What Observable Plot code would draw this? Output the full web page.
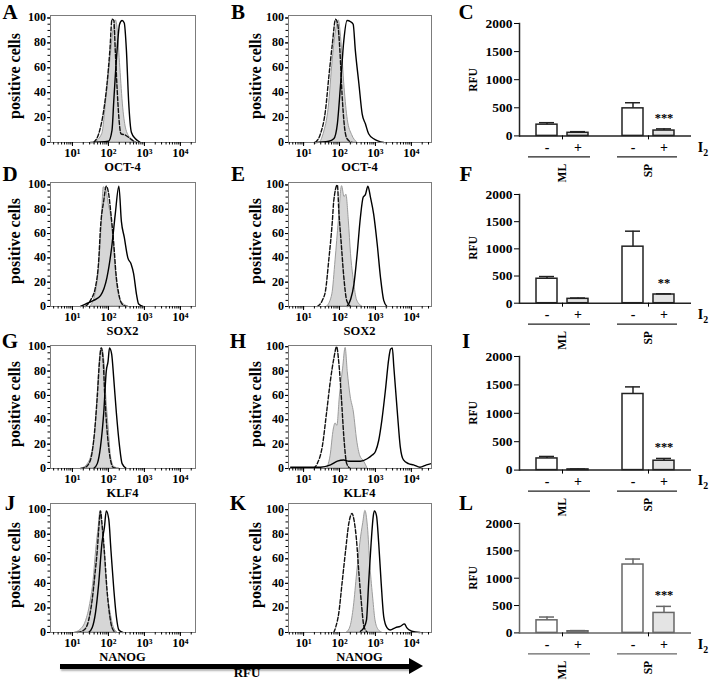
<!DOCTYPE html>
<html><head><meta charset="utf-8">
<script src="https://cdn.jsdelivr.net/npm/d3@7"></script>
<script src="https://cdn.jsdelivr.net/npm/@observablehq/plot@0.6"></script>
<style>
body{margin:0;background:#fff;}
#fig{position:relative;width:712px;height:680px;overflow:hidden;font-family:"Liberation Serif","Times New Roman",serif;font-weight:bold;color:#000;}
#fig svg{position:absolute;overflow:visible;}
.t{position:absolute;white-space:nowrap;line-height:1;}
#shaft{position:absolute;left:60px;top:664px;width:351px;height:4.5px;background:#000;box-shadow:1px 2px 2px #b5b5b5;}
#head{position:absolute;left:409px;top:658px;width:0;height:0;border-top:8px solid transparent;border-bottom:8px solid transparent;border-left:14px solid #000;}
</style></head><body><div id="fig"><div id="shaft"></div><div id="head"></div></div>
<script>
// ---------- labels ----------
const panelLetters = [["A","B","C"],["D","E","F"],["G","H","I"],["J","K","L"]];
const markerLabels = ["OCT-4","SOX2","KLF4","NANOG"];
const decadeTicks = [10, 100, 1000, 10000];
const decadeLabels = ["10¹","10²","10³","10⁴"];
const countTicks = [0, 20, 40, 60, 80, 100];
const rfuTicks = [0, 500, 1000, 1500, 2000];
const groupNames = ["ML", "SP"];
const iodineLevels = ["-", "+"];
const groups = ["ML", "ML", "SP", "SP"];
const iodine = ["-", "+", "-", "+"];

// ---------- histogram data: [log10 RFU, % of max] ----------
const A_dash = [[1.59,0],[1.73,7],[1.87,26],[1.96,47],[2.04,74],[2.10,99],[2.15,98],[2.19,74],[2.24,44],[2.29,20],[2.35,7],[2.47,6],[2.61,3],[2.75,0]];
const A_grey = [[1.63,0],[1.83,7],[1.94,34],[2.06,68],[2.15,92],[2.21,98],[2.26,90],[2.33,60],[2.41,28],[2.50,10],[2.63,3],[2.80,0]];
const A_solid = [[1.50,0],[2.00,1],[2.10,10],[2.15,34],[2.24,74],[2.31,95],[2.38,98],[2.44,96],[2.50,74],[2.56,34],[2.64,8],[2.75,3],[2.89,0]];

const B_dash = [[1.33,0],[1.47,7],[1.61,26],[1.70,52],[1.80,79],[1.89,99],[1.95,95],[2.01,74],[2.07,39],[2.14,12],[2.21,3],[2.35,0]];
const B_grey = [[1.47,0],[1.56,7],[1.70,28],[1.81,66],[1.89,87],[1.98,98],[2.05,82],[2.14,44],[2.23,18],[2.35,6],[2.49,0]];
const B_solid = [[1.30,0],[1.70,1],[1.84,3],[1.94,15],[2.03,47],[2.12,82],[2.21,98],[2.31,97],[2.38,95],[2.44,74],[2.54,47],[2.63,23],[2.72,15],[2.81,7],[2.95,3],[3.23,0]];

const D_dash = [[1.36,0],[1.50,5],[1.64,16],[1.73,38],[1.78,65],[1.87,87],[1.94,99],[2.01,92],[2.06,79],[2.15,51],[2.21,27],[2.29,10],[2.38,2],[2.50,0]];
const D_grey = [[1.50,0],[1.64,10],[1.73,29],[1.81,65],[1.87,98],[1.94,96],[2.01,84],[2.08,73],[2.15,51],[2.22,24],[2.31,7],[2.42,2],[2.56,0]];
const D_solid = [[1.22,0],[1.36,2],[1.59,5],[1.78,9],[1.96,24],[2.10,51],[2.19,76],[2.29,99],[2.36,70],[2.44,57],[2.54,40],[2.63,35],[2.70,27],[2.78,10],[2.84,2],[2.96,0]];

const E_dash = [[1.38,0],[1.52,5],[1.61,13],[1.70,38],[1.80,70],[1.84,87],[1.94,100],[1.98,79],[2.05,51],[2.12,24],[2.20,5],[2.31,0]];
const E_grey = [[1.66,0],[1.80,10],[1.89,38],[1.98,70],[2.07,99],[2.14,90],[2.19,92],[2.26,70],[2.32,43],[2.40,21],[2.49,5],[2.63,0]];
const E_solid = [[2.21,0],[2.31,6],[2.40,18],[2.49,43],[2.58,73],[2.66,90],[2.72,92],[2.79,99],[2.86,90],[2.95,76],[3.05,51],[3.14,24],[3.23,5],[3.32,0]];

const G_dash = [[1.22,0],[1.36,1],[1.50,7],[1.59,23],[1.69,59],[1.75,87],[1.80,99],[1.85,90],[1.90,59],[1.96,32],[2.04,10],[2.13,1],[2.25,0]];
const G_grey = [[1.27,0],[1.41,3],[1.54,12],[1.64,32],[1.71,65],[1.78,95],[1.82,99],[1.89,87],[1.94,59],[2.01,32],[2.07,10],[2.17,1],[2.30,0]];
const G_solid = [[1.59,0],[1.69,4],[1.78,18],[1.87,46],[1.94,80],[1.99,88],[2.03,99],[2.09,94],[2.15,73],[2.22,46],[2.31,18],[2.38,4],[2.50,0]];

const H_dash = [[1.28,0],[1.38,4],[1.52,18],[1.64,46],[1.75,73],[1.84,90],[1.92,100],[1.98,87],[2.05,59],[2.12,26],[2.20,4],[2.30,0]];
const H_grey = [[1.66,0],[1.75,10],[1.84,32],[1.89,37],[1.94,35],[2.01,59],[2.10,82],[2.17,99],[2.23,79],[2.31,59],[2.40,46],[2.49,23],[2.58,10],[2.68,6],[2.78,0]];
const H_solid = [[0.64,1],[1.00,1],[1.47,1],[1.75,3],[1.94,6],[2.12,7],[2.26,6],[2.40,6],[2.58,6],[2.77,8],[2.91,11],[3.00,14],[3.09,23],[3.18,40],[3.28,65],[3.37,90],[3.42,98],[3.47,99],[3.51,84],[3.61,46],[3.69,18],[3.78,7],[3.92,4],[4.06,3],[4.24,1],[4.42,3],[4.55,4]];

const J_dash = [[1.13,0],[1.32,2],[1.45,10],[1.55,27],[1.62,46],[1.69,67],[1.73,84],[1.78,99],[1.82,89],[1.89,65],[1.96,35],[2.04,13],[2.10,4],[2.20,0]];
const J_grey = [[1.08,0],[1.22,2],[1.36,8],[1.48,21],[1.59,43],[1.66,67],[1.73,86],[1.78,99],[1.83,86],[1.90,62],[1.96,37],[2.06,16],[2.15,4],[2.25,0]];
const J_solid = [[1.45,0],[1.55,4],[1.64,16],[1.73,40],[1.82,73],[1.89,86],[1.94,99],[2.01,92],[2.07,67],[2.15,35],[2.22,13],[2.29,2],[2.40,0]];

const K_dash = [[1.84,0],[1.89,4],[1.98,16],[2.07,40],[2.17,67],[2.26,89],[2.35,97],[2.40,92],[2.47,76],[2.54,48],[2.60,27],[2.68,5],[2.78,0]];
const K_grey = [[2.21,0],[2.31,5],[2.40,21],[2.49,48],[2.58,73],[2.66,89],[2.72,99],[2.79,86],[2.86,54],[2.94,27],[3.00,10],[3.09,2],[3.18,0]];
const K_solid = [[2.58,1],[2.68,4],[2.75,10],[2.81,40],[2.88,73],[2.94,95],[2.97,99],[3.03,95],[3.09,73],[3.16,40],[3.23,13],[3.32,4],[3.41,2],[3.56,4],[3.69,5],[3.81,7],[3.87,4],[4.01,1],[4.24,0]];

// ---------- bar chart data (RFU mean, SEM) ----------
const C_mean = [200, 55, 490, 95];   const C_sem = [35, 20, 100, 30];
const F_mean = [450, 80, 1040, 160]; const F_sem = [40, 15, 285, 12];
const I_mean = [205, 12, 1340, 165]; const I_sem = [35, 6, 125, 40];
const L_mean = [230, 30, 1250, 365]; const L_sem = [60, 12, 100, 120];
const C_star = "***", F_star = "**", I_star = "***", L_star = "***";

// ---------- layout ----------
const fig = document.getElementById("fig");
const rowFrames = [[15,142],[182,306],[345,468],[503,632]];
const rowYmax = [102, 102, 101, 105];
const colFrames = [[50,195],[288,431]];
const colDomains = [[10**0.39, 10**4.42],[10**0.58, 10**4.56]];
const barRows = [[23.3,135.7],[194,302.7],[355.7,469.3],[523.3,632.7]];
const baseStyle = {background:"none", overflow:"visible", fontFamily: '"Liberation Serif","Times New Roman",serif', fontWeight:"bold", color:"#000"};

function txt(html, x, y, size, rot, anchor) {
  const d = document.createElement("div");
  d.className = "t";
  d.innerHTML = html;
  d.style.left = x + "px"; d.style.top = y + "px"; d.style.fontSize = size + "px";
  d.style.transform = (anchor === "end" ? "translate(-100%,-50%)" : "translate(-50%,-50%)") + (rot ? ` rotate(${rot}deg)` : "");
  fig.appendChild(d);
}
function place(svg, left, top) {
  svg.style.position = "absolute"; svg.style.left = left + "px"; svg.style.top = top + "px";
  fig.appendChild(svg);
}

const minorAll = [1,10,100,1000,10000].flatMap(p => [1,2,3,4,5,6,7,8,9].map(k => k*p));
const minorY = d3.range(0, 101, 5);

function hist(col, row, dash, grey, solid) {
  const [ft, fb] = rowFrames[row];
  const [fl, fr] = colFrames[col];
  const dom = colDomains[col];
  const mT = 15, mB = 30, mL = 50, mR = 8;
  const X = d => 10 ** d[0], Y = d => d[1];
  const svg = Plot.plot({
    width: mL + (fr - fl) + mR, height: mT + (fb - ft) + mB,
    marginTop: mT, marginBottom: mB, marginLeft: mL, marginRight: mR,
    x: {type: "log", domain: dom}, y: {domain: [0, rowYmax[row]]}, style: baseStyle,
    marks: [
      Plot.areaY(grey, {x: X, y: Y, fill: "#d6d6d6", stroke: "#9c9c9c", strokeWidth: 1, curve: "monotone-x"}),
      Plot.lineY(dash, {x: X, y: Y, stroke: "#111", strokeWidth: 1.4, strokeDasharray: "4,2", curve: "monotone-x"}),
      Plot.lineY(solid, {x: X, y: Y, stroke: "#000", strokeWidth: 1.4, curve: "monotone-x"}),
      Plot.frame({stroke: "#7c7c7c", strokeWidth: 1}),
      Plot.axisX({ticks: minorAll.filter(t => t >= dom[0] && t <= dom[1]), tickSize: 2.5, tickPadding: 3.5, fontSize: 12.5, label: null,
                  tickFormat: d => decadeTicks.includes(d) ? decadeLabels[decadeTicks.indexOf(d)] : ""}),
      Plot.axisX({ticks: decadeTicks, tickSize: 4, tickFormat: () => "", label: null}),
      Plot.axisY({ticks: minorY, tickSize: 2.5, tickFormat: () => "", label: null}),
      Plot.axisY({ticks: countTicks, tickSize: 3, tickFormat: () => "", label: null})
    ]
  });
  const left = fl - mL, top = ft - mT;
  place(svg, left, top);
  // y tick labels positioned through the plot's own y scale
  const ys = svg.scale("y");
  countTicks.forEach(v => txt(String(v), left + mL - 4, top + ys.apply(v), 12, 0, "end"));
  const cx = (fl + fr) / 2;
  txt(panelLetters[row][col], col === 0 ? 10 : 238, [12, 174, 341, 503][row], 21);
  txt("positive cells", col === 0 ? 15 : 256, (ft + fb) / 2 - 3, 16, -90);
  txt(markerLabels[row], cx, fb + 25, 12.5);
}

function bars(row, means, sems, star, ink) {
  const [y2000, y0] = barRows[row];
  const mT = 8, mB = 60;
  const data = groups.map((g, i) => ({g, t: iodine[i], m: means[i], s: sems[i]}));
  const svg = Plot.plot({
    width: 252, height: mT + (y0 - y2000) + mB,
    marginTop: mT, marginBottom: mB, marginLeft: 58, marginRight: 21,
    fx: {domain: groupNames, paddingInner: 0, paddingOuter: 0},
    x: {domain: iodineLevels, paddingInner: 0.3125, paddingOuter: 0.506},
    y: {domain: [0, 2000]},
    style: baseStyle,
    marks: [
      Plot.barY(data, {filter: d => d.t === "-", fx: "g", x: "t", y: "m", fill: "#fff", stroke: ink, strokeWidth: 1.5}),
      Plot.barY(data, {filter: d => d.t === "+", fx: "g", x: "t", y: "m", fill: "#e4e4e4", stroke: ink, strokeWidth: 1.5}),
      Plot.ruleX(data, {fx: "g", x: "t", y1: d => d.m, y2: d => d.m + d.s, stroke: ink, strokeWidth: 1.5}),
      Plot.tickY(data, {fx: "g", x: "t", y: d => d.m + d.s, stroke: ink, strokeWidth: 1.5, insetLeft: 3, insetRight: 3}),
      Plot.ruleY([0], {stroke: ink, strokeWidth: 1.5}),
      Plot.frame({anchor: "left", facetAnchor: "left", stroke: ink, strokeWidth: 1.5}),
      Plot.axisY({ticks: rfuTicks, tickSize: 5, tickPadding: 2, fontSize: 13.5, label: null, tickFormat: d => String(d)}),
      Plot.axisX({tickSize: 0, tickPadding: 6, fontSize: 14, label: null}),
      Plot.axisFx({anchor: "bottom", tickSize: 4, tickPadding: 24, tickRotate: -90, fontSize: 11.5, label: null}),
      Plot.ruleY([0], {fx: ["ML"], dy: 21, insetLeft: 9, insetRight: 15, stroke: ink, strokeWidth: 1.2}),
      Plot.ruleY([0], {fx: ["SP"], dy: 21, insetLeft: 12, insetRight: 14, stroke: ink, strokeWidth: 1.2}),
      Plot.text(data, {filter: d => d.g === "SP" && d.t === "+", fx: "g", x: "t", y: d => d.m + d.s, text: () => star, dy: -11, fontSize: 12.5, fill: "#000"})
    ]
  });
  place(svg, 460, y2000 - mT);
  txt(panelLetters[row][2], 466, [12, 174, 341, 503][row], 21);
  txt("RFU", 474, (y2000 + y0) / 2, 11.5, -90);
  txt("I<sub style='font-size:0.7em'>2</sub>", 703, y0 + 13, 14);
}

const histData = [
  [[A_dash, A_grey, A_solid], [B_dash, B_grey, B_solid]],
  [[D_dash, D_grey, D_solid], [E_dash, E_grey, E_solid]],
  [[G_dash, G_grey, G_solid], [H_dash, H_grey, H_solid]],
  [[J_dash, J_grey, J_solid], [K_dash, K_grey, K_solid]]
];
histData.forEach((r, row) => r.forEach((p, col) => hist(col, row, ...p)));
bars(0, C_mean, C_sem, C_star, "#222");
bars(1, F_mean, F_sem, F_star, "#222");
bars(2, I_mean, I_sem, I_star, "#222");
bars(3, L_mean, L_sem, L_star, "#666");

txt("RFU", 247, 672, 13);
</script></body></html>
